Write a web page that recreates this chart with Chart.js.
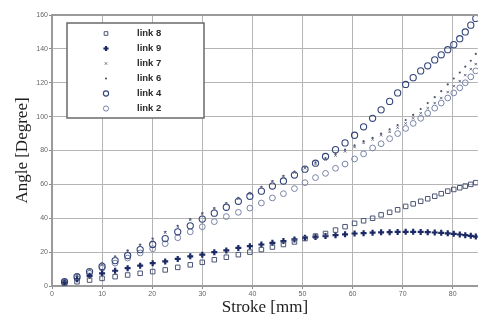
<!DOCTYPE html>
<html>
<head>
<meta charset="utf-8">
<script src="https://cdn.jsdelivr.net/npm/chart.js@4/dist/chart.umd.min.js"></script>
<style>
html,body{margin:0;padding:0;background:#fff;}
#wrap{position:relative;width:483px;height:320px;}
</style>
</head>
<body>
<div id="wrap"><canvas id="c" width="483" height="320"></canvas></div>
<script>
// ---- data ----
const stroke = [2.5, 5.0, 7.5, 10.0, 12.6, 15.1, 17.6, 20.1, 22.6, 25.1, 27.6, 30.0, 32.4, 34.8, 37.2, 39.5, 41.8, 44.0, 46.2, 48.4, 50.5, 52.6, 54.6, 56.6, 58.5, 60.4, 62.2, 64.0, 65.7, 67.4, 69.0, 70.6, 72.1, 73.6, 75.0, 76.4, 77.7, 79.0, 80.2, 81.4, 82.5, 83.6, 84.6];
const link8 = [1.5, 2.5, 3.5, 4.5, 5.5, 6.5, 7.5, 8.5, 9.5, 11, 12.5, 14, 15.5, 17, 18.5, 20, 21.5, 23, 24.5, 26, 28, 29.5, 31, 33, 35, 37, 38.5, 40, 42, 43.5, 45, 47, 48.5, 50, 51.5, 53, 54.5, 56, 57, 58, 59, 60, 61];
const link9 = [2, 4, 6, 7.5, 9, 10.5, 12, 13.5, 14.5, 16, 17.5, 18.5, 20, 21, 22.5, 23.5, 24.5, 25.5, 26.5, 27.5, 28.5, 29, 29.5, 30, 30.5, 31, 31.2, 31.5, 31.7, 31.8, 31.9, 32, 32, 31.9, 31.8, 31.6, 31.4, 31.1, 30.8, 30.4, 30, 29.6, 29.2];
const link7 = [2.8, 6.2, 9.6, 13, 17, 20.5, 24, 27.5, 31.5, 35, 39, 42.5, 45.5, 48.5, 51.5, 54.5, 58, 61.5, 64.5, 67, 69.5, 72, 74.5, 77, 79.5, 82, 84.5, 86.5, 89, 91, 93.5, 96, 99, 102, 105, 108, 111, 114.5, 118, 121, 124.5, 128, 131];
const link6 = [3, 6.5, 10, 13.5, 17.5, 21, 24.5, 28, 32, 35.5, 39.5, 43, 46, 49, 52, 55, 58.5, 62, 65, 67.5, 70, 73, 75.5, 78, 80.5, 83, 85.5, 87.5, 90, 92.5, 95, 98, 101, 104.5, 108, 111.5, 115, 119, 122.5, 126, 129.5, 133, 137];
const link4 = [2.5, 5.5, 8.5, 11.5, 15, 18, 21.5, 24.5, 28, 32, 35.5, 39.5, 43, 46.5, 50, 53, 56, 59, 62, 65.5, 69, 72.5, 76.5, 80.5, 84.5, 89, 94, 99, 104, 109, 114, 119, 123, 127, 130, 133.5, 136.5, 139.5, 142.5, 146, 150, 154, 158];
const link2 = [2, 4.5, 7.5, 10.5, 13.5, 16.5, 19.5, 22, 25, 28.5, 32, 35, 38, 41, 43.5, 46, 49, 52, 54.5, 57.5, 61, 64, 66.5, 69.5, 72, 75, 78, 81.5, 84, 87, 90, 93, 96, 99, 102, 105, 108, 111, 114, 117, 120, 123.5, 127];
const seriesNames = ['link 8', 'link 9', 'link 7', 'link 6', 'link 4', 'link 2'];
const xTicks = [0, 10, 20, 30, 40, 50, 60, 70, 80];
const yTicks = [0, 20, 40, 60, 80, 100, 120, 140, 160];
const xTitle = 'Stroke [mm]';
const yTitle = 'Angle [Degree]';

const pts = (ys) => stroke.map((x, i) => ({x: x, y: ys[i]}));

const styles = [
  {pointStyle: 'rect', pointRadius: 3.2, borderColor: '#4b5675', backgroundColor: 'rgba(255,255,255,0)', borderWidth: 1},
  {pointStyle: 'cross', pointRadius: 3, borderColor: '#1b2964', backgroundColor: '#1b2964', borderWidth: 2.2},
  {pointStyle: 'crossRot', pointRadius: 1.7, borderColor: '#6b7189', backgroundColor: '#6b7189', borderWidth: 1},
  {pointStyle: 'circle', pointRadius: 1.1, borderColor: '#50566e', backgroundColor: '#50566e', borderWidth: 0},
  {pointStyle: 'circle', pointRadius: 3.1, borderColor: '#34457a', backgroundColor: 'rgba(255,255,255,0)', borderWidth: 1.1},
  {pointStyle: 'circle', pointRadius: 2.9, borderColor: '#7883a6', backgroundColor: 'rgba(255,255,255,0)', borderWidth: 1}
];
const allSeries = [link8, link9, link7, link6, link4, link2];

const datasets = allSeries.map((s, i) => Object.assign({
  label: seriesNames[i],
  data: pts(s),
  showLine: false,
  pointHoverRadius: 0
}, styles[i]));

const frame = {
  id: 'frame',
  afterDraw(chart) {
    const ctx = chart.ctx, a = chart.chartArea;
    ctx.save();
    ctx.strokeStyle = '#9a9a9a';
    ctx.lineWidth = 2;
    ctx.beginPath();
    ctx.moveTo(a.left, a.top); ctx.lineTo(a.right, a.top);
    ctx.stroke();
    // legend box
    const bx = 67, by = 23, bw = 137, bh = 95;
    ctx.fillStyle = '#fff';
    ctx.fillRect(bx, by, bw, bh);
    ctx.strokeStyle = '#6a6a6a';
    ctx.lineWidth = 1.5;
    ctx.strokeRect(bx, by, bw, bh);
    ctx.font = 'bold 9.5px "Liberation Sans", Arial, sans-serif';
    ctx.textBaseline = 'middle';
    chart.data.datasets.forEach((ds, i) => {
      const yy = by + 10.5 + i * 15;
      ctx.save();
      ctx.fillStyle = ds.backgroundColor;
      ctx.strokeStyle = ds.borderColor;
      ctx.lineWidth = ds.borderWidth;
      Chart.helpers.drawPoint(ctx, {pointStyle: ds.pointStyle, radius: Math.min(ds.pointRadius, 2.6), rotation: 0, borderWidth: ds.borderWidth}, 106, yy);
      ctx.restore();
      ctx.fillStyle = '#2a2a2a';
      ctx.fillText(ds.label, 137, yy);
    });
    ctx.restore();
  }
};

new Chart(document.getElementById('c'), {
  type: 'scatter',
  data: {datasets: datasets},
  plugins: [frame],
  options: {
    responsive: false,
    animation: false,
    events: [],
    layout: {padding: {top: 15, right: 0, left: 0, bottom: 0}},
    plugins: {legend: {display: false}, tooltip: {enabled: false}},
    scales: {
      x: {
        type: 'linear', min: 0, max: 85,
        afterBuildTicks: (s) => { s.ticks = xTicks.map(v => ({value: v})); },
        afterFit: (s) => { s.height = 34; },
        grid: {color: '#b5b5b5', lineWidth: 1, borderDash: [1, 2], drawTicks: true, tickLength: 3, tickColor: '#888'},
        border: {display: true, color: '#9a9a9a', width: 2},
        ticks: {color: '#666', font: {size: 7, family: '"Liberation Sans", Arial, sans-serif'}, padding: 1, maxRotation: 0},
        title: {display: true, text: xTitle, color: '#1e1e1e', font: {size: 17, family: '"Liberation Serif", "Times New Roman", serif'}, padding: {top: 0, bottom: 2}}
      },
      y: {
        type: 'linear', min: 0, max: 160,
        afterBuildTicks: (s) => { s.ticks = yTicks.map(v => ({value: v})); },
        afterFit: (s) => { s.width = 52; },
        grid: {color: '#b5b5b5', lineWidth: 1, borderDash: [1, 2], drawTicks: true, tickLength: 3, tickColor: '#888'},
        border: {display: true, color: '#9a9a9a', width: 2},
        ticks: {color: '#666', font: {size: 7, family: '"Liberation Sans", Arial, sans-serif'}, padding: 1},
        title: {display: true, text: yTitle, color: '#1e1e1e', font: {size: 17, family: '"Liberation Serif", "Times New Roman", serif'}, padding: {top: 12, bottom: 0}}
      }
    }
  }
});
</script>
</body>
</html>
